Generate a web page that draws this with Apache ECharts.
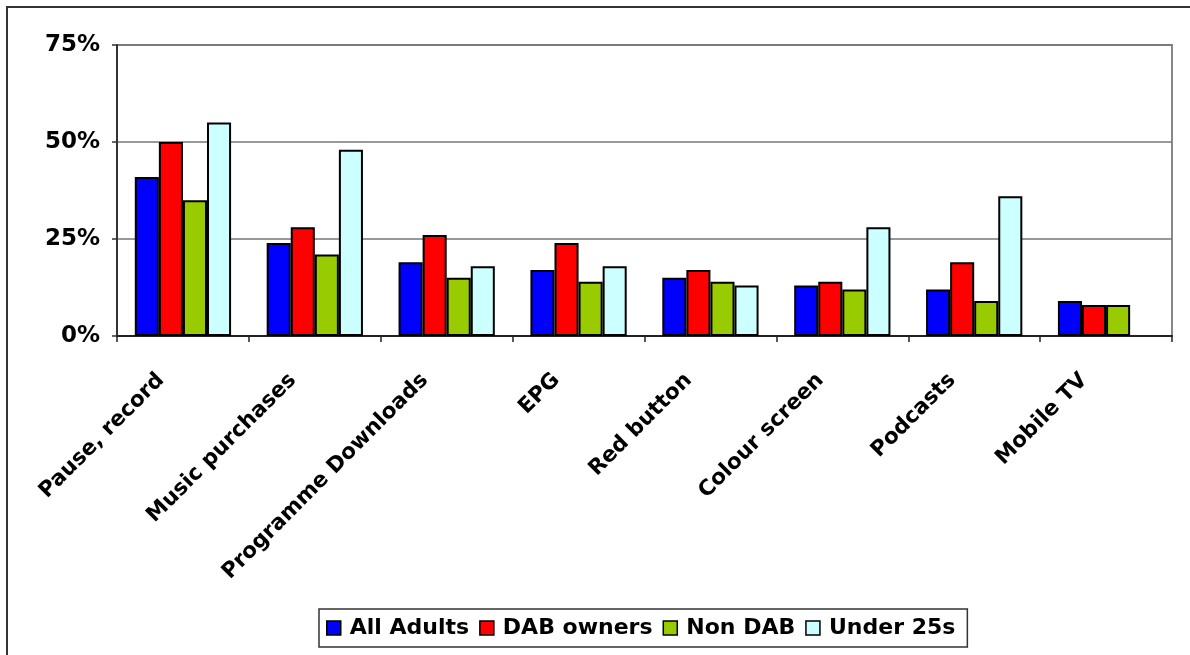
<!DOCTYPE html>
<html>
<head>
<meta charset="utf-8">
<script src="https://cdn.jsdelivr.net/npm/echarts@6/dist/echarts.min.js"></script>
<style>
  html, body { margin: 0; padding: 0; background: #fff; }
  #chart { width: 1190px; height: 655px; }
</style>
</head>
<body>
<div id="chart"></div>
<script>
// Feature interest by audience group (percent)
const categories = ['Pause, record', 'Music purchases', 'Programme Downloads', 'EPG',
                    'Red button', 'Colour screen', 'Podcasts', 'Mobile TV'];
const allAdults  = [41, 24, 19, 17, 15, 13, 12, 9];
const dabOwners  = [50, 28, 26, 24, 17, 14, 19, 8];
const nonDab     = [35, 21, 15, 14, 14, 12, 9, 8];
const under25s   = [55, 48, 18, 18, 13, 28, 36, null];
const yTicks = { min: 0, max: 75, interval: 25 };

const seriesDefs = [
  { name: 'All Adults', data: allAdults, color: '#0000FF' },
  { name: 'DAB owners', data: dabOwners, color: '#FF0000' },
  { name: 'Non DAB',    data: nonDab,    color: '#99CC00' },
  { name: 'Under 25s',  data: under25s,  color: '#CCFFFF' }
];

const FONT = '"DejaVu Sans", Verdana, sans-serif';
const chart = echarts.init(document.getElementById('chart'), null, { renderer: 'canvas' });

chart.setOption({
  animation: false,
  backgroundColor: '#fff',
  graphic: [{
    type: 'rect',
    shape: { x: 7, y: 7, width: 1220, height: 700 },
    style: { fill: 'none', stroke: '#333', lineWidth: 2 },
    silent: true
  }],
  grid: {
    left: 117, right: 18, top: 45, bottom: 319,
    show: true, borderColor: '#888', borderWidth: 2, backgroundColor: '#fff'
  },
  legend: {
    left: 319, top: 609,
    orient: 'horizontal',
    padding: [8, 12, 8, 7],
    itemGap: 10,
    itemWidth: 14, itemHeight: 14,
    borderColor: '#333', borderWidth: 1.5,
    icon: 'rect',
    textStyle: { fontFamily: FONT, fontWeight: 'bold', fontSize: 22, color: '#000', padding: [0, 0, 0, 4] },
    itemStyle: { borderColor: '#000', borderWidth: 1.5 },
    data: seriesDefs.map(s => s.name)
  },
  xAxis: {
    type: 'category',
    data: categories,
    axisLine: { lineStyle: { color: '#222', width: 2 } },
    axisTick: { show: true, alignWithLabel: false, inside: false, length: 6, lineStyle: { color: '#222', width: 1.5 } },
    axisLabel: {
      interval: 0, rotate: 45, margin: 19,
      fontFamily: FONT, fontWeight: 'bold', fontSize: 21.5, color: '#000',
      padding: [0, 31, 0, 0]
    }
  },
  yAxis: {
    type: 'value',
    min: yTicks.min, max: yTicks.max, interval: yTicks.interval,
    axisLine: { show: true, lineStyle: { color: '#333', width: 2 } },
    axisTick: { show: true, length: 5, lineStyle: { color: '#333', width: 1.5 } },
    splitLine: { show: true, lineStyle: { color: '#777', width: 1.5 } },
    axisLabel: {
      formatter: '{value}%', margin: 17,
      fontFamily: FONT, fontWeight: 'bold', fontSize: 23, color: '#000'
    }
  },
  series: seriesDefs.map(s => ({
    name: s.name,
    type: 'bar',
    data: s.data,
    barGap: '0%',
    barCategoryGap: '27%',
    itemStyle: { color: s.color, borderColor: '#000', borderWidth: 2 }
  }))
});
</script>
</body>
</html>
